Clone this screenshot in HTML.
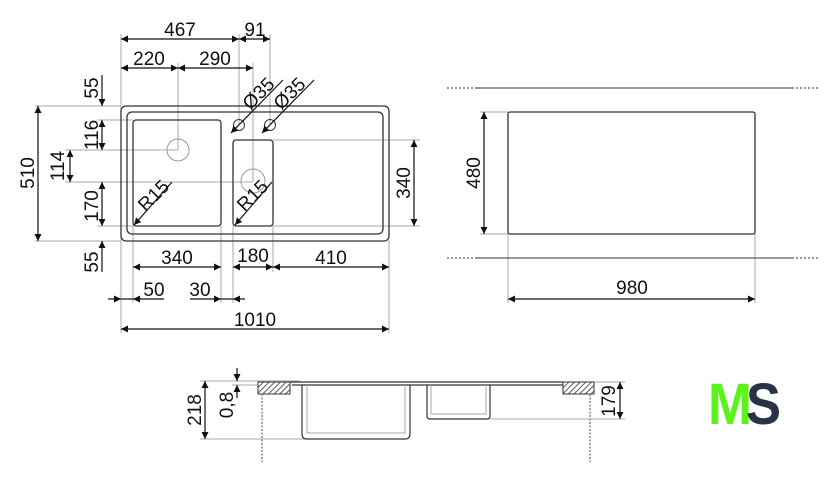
<!DOCTYPE html>
<html><head><meta charset="utf-8"><style>
html,body{margin:0;padding:0;background:#fff;width:840px;height:483px;overflow:hidden}
text{font-family:"Liberation Sans",Arial,sans-serif;font-size:19px;fill:#111}
</style></head><body>
<svg width="840" height="483" viewBox="0 0 840 483" xmlns="http://www.w3.org/2000/svg">
<defs>
<marker id="a" viewBox="0 0 10 10" refX="10" refY="5" markerWidth="9" markerHeight="7" markerUnits="userSpaceOnUse" orient="auto-start-reverse"><path d="M0,0 L10,5 L0,10 z" fill="#111"/></marker>
<pattern id="h" width="4" height="4" patternUnits="userSpaceOnUse" patternTransform="rotate(45)"><rect width="4" height="4" fill="#fff"/><line x1="0" y1="0" x2="0" y2="4" stroke="#333" stroke-width="1.6"/></pattern>
</defs>
<g fill="none" stroke="#aaa" stroke-width="1">
<line x1="121" y1="34" x2="121" y2="333"/>
<line x1="239" y1="34" x2="239" y2="125"/>
<line x1="270" y1="34" x2="270" y2="125"/>
<line x1="178" y1="63" x2="178" y2="150"/>
<line x1="253" y1="63" x2="253" y2="181"/>
<line x1="35" y1="106" x2="121" y2="106"/>
<line x1="35" y1="241" x2="121" y2="241"/>
<line x1="97" y1="120" x2="133" y2="120"/>
<line x1="97" y1="226" x2="133" y2="226"/>
<line x1="65" y1="150" x2="178" y2="150"/>
<line x1="65" y1="182" x2="253" y2="182"/>
<line x1="273" y1="140" x2="420" y2="140"/>
<line x1="273" y1="226" x2="420" y2="226"/>
<line x1="133" y1="226" x2="133" y2="303"/>
<line x1="221" y1="226" x2="221" y2="303"/>
<line x1="233" y1="226" x2="233" y2="303"/>
<line x1="273" y1="226" x2="273" y2="272"/>
<line x1="389" y1="240" x2="389" y2="333"/>
<line x1="480" y1="112" x2="508" y2="112"/>
<line x1="480" y1="234" x2="508" y2="234"/>
<line x1="508" y1="234" x2="508" y2="303"/>
<line x1="755" y1="234" x2="755" y2="303"/>
<line x1="200" y1="381" x2="300" y2="381"/>
<line x1="200" y1="439" x2="305" y2="439"/>
<line x1="232" y1="385" x2="258" y2="385"/>
<line x1="490" y1="419" x2="625" y2="419"/>
<line x1="594" y1="382" x2="625" y2="382"/>
</g>
<g fill="none" stroke="#333" stroke-width="1.3">
<rect x="121" y="106" width="268" height="135" rx="5"/>
<rect x="127" y="112" width="256" height="122" rx="5"/>
<rect x="133" y="120" width="88" height="106" rx="3"/>
<rect x="233" y="140" width="40" height="86" rx="3"/>
<rect x="508" y="112" width="247" height="122" rx="2"/>
</g>
<g fill="none" stroke="#999" stroke-width="1">
<circle cx="178" cy="150" r="11"/>
<circle cx="253" cy="181" r="12"/>
<circle cx="239" cy="125" r="5.5" stroke="#333"/>
<circle cx="270" cy="125" r="5.5" stroke="#333"/>
</g>
<g stroke="#111" stroke-width="1.2" fill="none">
<line x1="121" y1="39" x2="239" y2="39" marker-start="url(#a)" marker-end="url(#a)"/>
<line x1="239" y1="39" x2="270" y2="39" marker-start="url(#a)" marker-end="url(#a)"/>
<line x1="121" y1="68" x2="178" y2="68" marker-start="url(#a)" marker-end="url(#a)"/>
<line x1="178" y1="68" x2="253" y2="68" marker-start="url(#a)" marker-end="url(#a)"/>
<line x1="38" y1="106" x2="38" y2="241" marker-start="url(#a)" marker-end="url(#a)"/>
<line x1="102" y1="75" x2="102" y2="106" marker-end="url(#a)"/>
<line x1="102" y1="120" x2="102" y2="150" marker-start="url(#a)" marker-end="url(#a)"/>
<line x1="70" y1="150" x2="70" y2="182" marker-start="url(#a)" marker-end="url(#a)"/>
<line x1="102" y1="182" x2="102" y2="226" marker-start="url(#a)" marker-end="url(#a)"/>
<line x1="102" y1="272" x2="102" y2="241" marker-end="url(#a)"/>
<line x1="414" y1="140" x2="414" y2="226" marker-start="url(#a)" marker-end="url(#a)"/>
<line x1="133" y1="267" x2="221" y2="267" marker-start="url(#a)" marker-end="url(#a)"/>
<line x1="233" y1="267" x2="273" y2="267" marker-start="url(#a)" marker-end="url(#a)"/>
<line x1="273" y1="267" x2="389" y2="267" marker-start="url(#a)" marker-end="url(#a)"/>
<line x1="108" y1="299" x2="121" y2="299" marker-end="url(#a)"/>
<line x1="121" y1="299" x2="133" y2="299"/>
<line x1="164" y1="299" x2="133" y2="299" marker-end="url(#a)"/>
<line x1="190" y1="299" x2="221" y2="299" marker-end="url(#a)"/>
<line x1="221" y1="299" x2="233" y2="299"/>
<line x1="245" y1="299" x2="233" y2="299" marker-end="url(#a)"/>
<line x1="121" y1="329" x2="389" y2="329" marker-start="url(#a)" marker-end="url(#a)"/>
<line x1="484" y1="112" x2="484" y2="234" marker-start="url(#a)" marker-end="url(#a)"/>
<line x1="508" y1="299" x2="755" y2="299" marker-start="url(#a)" marker-end="url(#a)"/>
<line x1="283" y1="80" x2="231" y2="133" marker-end="url(#a)"/>
<line x1="314" y1="80" x2="262" y2="133" marker-end="url(#a)"/>
<line x1="172" y1="182" x2="134" y2="225" marker-end="url(#a)"/>
<line x1="272" y1="182" x2="235" y2="225" marker-end="url(#a)"/>
<line x1="205" y1="381" x2="205" y2="439" marker-start="url(#a)" marker-end="url(#a)"/>
<line x1="237" y1="368" x2="237" y2="381" marker-end="url(#a)"/>
<line x1="237" y1="398" x2="237" y2="385" marker-end="url(#a)"/>
<line x1="620" y1="382" x2="620" y2="419" marker-start="url(#a)" marker-end="url(#a)"/>
</g>
<g stroke="#333" stroke-width="1">
<line x1="475" y1="88" x2="792" y2="88"/>
<line x1="475" y1="258" x2="792" y2="258"/>
<line x1="447" y1="88" x2="475" y2="88" stroke-dasharray="2,2"/>
<line x1="792" y1="88" x2="820" y2="88" stroke-dasharray="2,2"/>
<line x1="447" y1="258" x2="475" y2="258" stroke-dasharray="2,2"/>
<line x1="792" y1="258" x2="820" y2="258" stroke-dasharray="2,2"/>
</g>
<rect x="258" y="382" width="32" height="12" fill="url(#h)" stroke="#333"/>
<rect x="563" y="382" width="31" height="12" fill="url(#h)" stroke="#333"/>
<g stroke="#888" stroke-width="1.5" stroke-dasharray="2,1.5">
<line x1="262" y1="394" x2="262" y2="462"/>
<line x1="590" y1="394" x2="590" y2="462"/>
</g>
<g fill="none" stroke="#333" stroke-width="1.2">
<path d="M290,382 L563,382 M292,385 L540,385 L563,385"/>
<path d="M302,385 L302,434 Q302,439 307,439 L405,439 Q410,439 410,434 L410,385"/>
<path d="M427,385 L427,416 Q427,419 430,419 L487,419 Q490,419 490,416 L490,385"/>
</g>
<g fill="none" stroke="#aaa" stroke-width="1">
<path d="M307,385 L307,433 L405,433 L405,385 M431,385 L431,414 L486,414 L486,385"/>
</g>
<text x="180" y="36" text-anchor="middle">467</text>
<text x="255" y="36" text-anchor="middle">91</text>
<text x="149" y="65" text-anchor="middle">220</text>
<text x="215" y="65" text-anchor="middle">290</text>
<text transform="translate(263,98) rotate(-45)" text-anchor="middle">Ø35</text>
<text transform="translate(294,98) rotate(-45)" text-anchor="middle">Ø35</text>
<text transform="translate(158,200) rotate(-45)" text-anchor="middle">R15</text>
<text transform="translate(257,200) rotate(-45)" text-anchor="middle">R15</text>
<text transform="translate(34,173) rotate(-90)" text-anchor="middle">510</text>
<text transform="translate(98,88) rotate(-90)" text-anchor="middle">55</text>
<text transform="translate(98,135) rotate(-90)" text-anchor="middle">116</text>
<text transform="translate(64,166) rotate(-90)" text-anchor="middle">114</text>
<text transform="translate(98,206) rotate(-90)" text-anchor="middle">170</text>
<text transform="translate(98,262) rotate(-90)" text-anchor="middle">55</text>
<text transform="translate(410,183) rotate(-90)" text-anchor="middle">340</text>
<text x="177" y="264" text-anchor="middle">340</text>
<text x="253" y="262" text-anchor="middle">180</text>
<text x="331" y="264" text-anchor="middle">410</text>
<text x="154" y="296" text-anchor="middle">50</text>
<text x="200" y="296" text-anchor="middle">30</text>
<text x="255" y="326" text-anchor="middle">1010</text>
<text transform="translate(480,173) rotate(-90)" text-anchor="middle">480</text>
<text x="632" y="294" text-anchor="middle">980</text>
<text transform="translate(201,410) rotate(-90)" text-anchor="middle">218</text>
<text transform="translate(233,405) rotate(-90)" text-anchor="middle">0,8</text>
<text transform="translate(615,401) rotate(-90)" text-anchor="middle">179</text>
<text x="708" y="424" style="font-size:58px;font-weight:bold;fill:#5cf21c" textLength="44" lengthAdjust="spacingAndGlyphs">M</text>
<text x="746" y="424" style="font-size:58px;font-weight:bold;fill:#283445" textLength="35" lengthAdjust="spacingAndGlyphs">S</text>
</svg>
</body></html>
